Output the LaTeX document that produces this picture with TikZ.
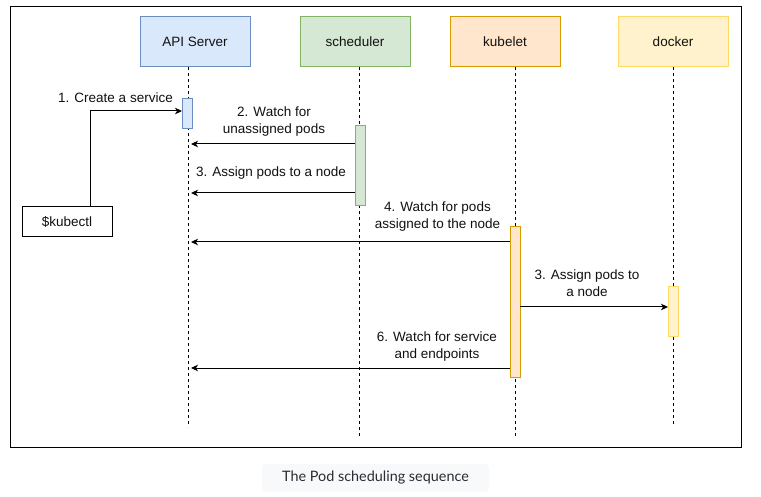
\documentclass[tikz,border=0pt]{standalone}
\usepackage{fontspec}
\setmainfont{Liberation Sans}
\newfontfamily\capfont{Lato}
\usetikzlibrary{arrows.meta}
\definecolor{apiFill}{HTML}{DAE8FC}
\definecolor{apiLine}{HTML}{6C8EBF}
\definecolor{schFill}{HTML}{D5E8D4}
\definecolor{schLine}{HTML}{82B366}
\definecolor{kubFill}{HTML}{FFE6CC}
\definecolor{kubLine}{HTML}{D79B00}
\definecolor{dockFill}{HTML}{FFF2CC}
\definecolor{dockLine}{HTML}{FFD966}
\definecolor{capBg}{HTML}{F8F9FB}
\definecolor{capText}{HTML}{2B2B33}
\definecolor{txt}{HTML}{111111}
\tikzset{
  hdr/.style={draw=#1Line, fill=#1Fill, line width=1pt, minimum width=110pt, minimum height=50pt, inner sep=0pt, text=txt},
  actbox/.style={draw=#1Line, fill=#1Fill, line width=1pt, minimum width=10pt, inner sep=0pt},
  lifeline/.style={line width=1pt, dash pattern=on 3pt off 3pt},
  msg/.style={line width=1pt, -{Stealth[length=7pt,width=6.5pt,inset=2pt]}},
  lbl/.style={align=center, inner sep=0pt, text=txt, font=\fontsize{13.5}{17}\selectfont},
  plain/.style={draw, line width=1pt, minimum width=90pt, minimum height=30pt, inner sep=0pt, text=txt}
}
\begin{document}
\begin{tikzpicture}[x=1pt,y=-1pt, font=\fontsize{13.5}{17}\selectfont]
\useasboundingbox (0,0) rectangle (761,497);
\fill[white] (0,0) rectangle (761,497);
\draw[line width=1pt] (10,7) rectangle (741,447);

% headers
\node[hdr=api] (api) at (195,42) {API Server};
\node[hdr=sch] (sch) at (355,42) {scheduler};
\node[hdr=kub] (kub) at (505,42) {kubelet};
\node[hdr=dock] (dock) at (673,42) {docker};

% lifelines
\coordinate (apiT) at (188,67);  \coordinate (apiB) at (188,427);
\coordinate (schT) at (359,67);  \coordinate (schB) at (359,437);
\coordinate (kubT) at (515,67);  \coordinate (kubB) at (515,437);
\coordinate (dockT) at (673,67); \coordinate (dockB) at (673,424);
\draw[lifeline] (apiT) -- (apiB);
\draw[lifeline] (schT) -- (schB);
\draw[lifeline] (kubT) -- (kubB);
\draw[lifeline] (dockT) -- (dockB);

% activations
\node[actbox=api, minimum height=30pt] (apiAct) at (187,114) {};
\node[actbox=sch, minimum height=80pt] (schAct) at (360.5,166) {};
\node[actbox=kub, minimum height=150pt] (kubAct) at (515,302) {};
\node[actbox=dock, minimum height=50pt] (dockAct) at (673.5,312) {};

% kubectl
\node[plain] (kubectl) at (67,222) {\$kubectl};

% messages
\coordinate (m1) at (182,111);
\draw[msg] ([xshift=23pt]kubectl.north) |- (m1);
\node[lbl] (l1) at (115.5,98) {1. Create a service};

\coordinate (m2) at (191,144);
\draw[msg] (schAct.west |- m2) -- (m2);
\node[lbl] (l2) at (274,121.5) {2. Watch for\\unassigned pods};

\coordinate (m3) at (191,193);
\draw[msg] (schAct.west |- m3) -- (m3);
\node[lbl] (l3) at (271,173) {3. Assign pods to a node};

\coordinate (m4) at (191,242);
\draw[msg] (kubAct.west |- m4) -- (m4);
\node[lbl] (l4) at (437.5,216.5) {4. Watch for pods\\assigned to the node};

\coordinate (m5) at (520,307);
\draw[msg] (m5) -- (dockAct.west |- m5);
\node[lbl] (l5) at (587,283.5) {3. Assign pods to\\a node};

\coordinate (m6) at (191,368);
\draw[msg] (kubAct.west |- m6) -- (m6);
\node[lbl] (l6) at (437,346.5) {6. Watch for service\\and endpoints};

% caption
\node[fill=capBg, rounded corners=4pt, minimum width=227pt, minimum height=28pt, inner sep=0pt, text=capText] (cap) at (375.5,478) {\capfont\fontsize{14.4}{16}\selectfont The Pod scheduling sequence};
\end{tikzpicture}
\end{document}
